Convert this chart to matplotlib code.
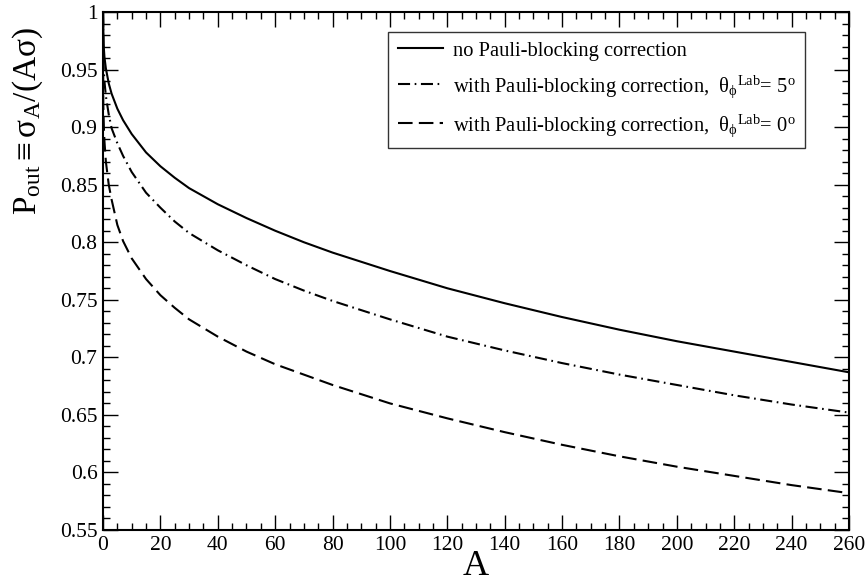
import matplotlib
matplotlib.use("Agg")
import matplotlib.pyplot as plt
from matplotlib.ticker import MultipleLocator, FixedLocator

plt.rcParams['font.family'] = ['Liberation Serif', 'DejaVu Serif']
plt.rcParams['mathtext.fontset'] = 'custom'
plt.rcParams['mathtext.rm'] = 'Liberation Serif'
plt.rcParams['mathtext.it'] = 'Liberation Serif:italic'
plt.rcParams['mathtext.bf'] = 'Liberation Serif:bold'

# ---- data ----
A_vals = [0, 0.2, 0.5, 1, 2, 3, 5, 7, 10, 15, 20, 25, 30, 40, 50, 60, 70, 80,
          90, 100, 120, 140, 160, 180, 200, 220, 240, 260]
no_pauli = [1.0, 0.972, 0.961, 0.951, 0.938, 0.929, 0.916, 0.906, 0.894, 0.878,
            0.866, 0.856, 0.847, 0.833, 0.821, 0.810, 0.800, 0.791, 0.783, 0.775,
            0.760, 0.747, 0.735, 0.724, 0.714, 0.705, 0.696, 0.687]
pauli_5deg = [1.0, 0.953, 0.940, 0.927, 0.911, 0.899, 0.886, 0.875, 0.861, 0.843,
              0.830, 0.818, 0.808, 0.793, 0.780, 0.768, 0.758, 0.749, 0.741, 0.733,
              0.718, 0.706, 0.695, 0.685, 0.676, 0.667, 0.659, 0.652]
A_dash = [0, 0.1, 0.3, 0.5, 1, 2, 3, 5, 7, 10, 15, 20, 25, 30, 40, 50, 60, 70,
          80, 90, 100, 120, 140, 160, 180, 200, 220, 240, 260]
pauli_0deg = [1.0, 0.920, 0.900, 0.888, 0.870, 0.850, 0.837, 0.815, 0.801, 0.786,
              0.768, 0.754, 0.743, 0.733, 0.718, 0.705, 0.694, 0.685, 0.676, 0.668,
              0.660, 0.647, 0.635, 0.624, 0.614, 0.605, 0.597, 0.589, 0.582]

labels = ["no Pauli-blocking correction",
          r"with Pauli-blocking correction,  θ$_{\mathrm{ϕ}}{}^{\mathrm{Lab}}$= 5$^{\mathrm{o}}$",
          r"with Pauli-blocking correction,  θ$_{\mathrm{ϕ}}{}^{\mathrm{Lab}}$= 0$^{\mathrm{o}}$"]

x_ticks = [0, 20, 40, 60, 80, 100, 120, 140, 160, 180, 200, 220, 240, 260]
y_ticks = [0.55, 0.6, 0.65, 0.7, 0.75, 0.8, 0.85, 0.9, 0.95, 1.0]
y_tick_labels = ["0.55", "0.6", "0.65", "0.7", "0.75", "0.8", "0.85", "0.9", "0.95", "1"]

fig = plt.figure(figsize=(8.66, 5.84), dpi=100)
ax = fig.add_axes([103/866, 1-530/584, (849-103)/866, (530-12)/584])

lw = 1.5
ax.plot(A_vals, no_pauli, color='black', lw=lw, label=labels[0])
ax.plot(A_vals, pauli_5deg, color='black', lw=lw, dashes=(5.8, 2.2, 0.8, 2.2),
        label=labels[1])
ax.plot(A_dash, pauli_0deg, color='black', lw=lw, dashes=(7.0, 3.0), label=labels[2])

ax.set_xlim(0, 260)
ax.set_ylim(0.55, 1.0)
ax.xaxis.set_major_locator(FixedLocator(x_ticks))
ax.xaxis.set_minor_locator(MultipleLocator(5))
ax.yaxis.set_major_locator(FixedLocator(y_ticks))
ax.yaxis.set_minor_locator(MultipleLocator(0.01))
ax.set_xticklabels([str(t) for t in x_ticks])
ax.set_yticklabels(y_tick_labels)

ax.tick_params(which='both', direction='in', top=True, right=True, width=1.0,
               labelsize=15.5, color='black')
ax.tick_params(which='major', length=10.5, pad=4)
ax.tick_params(which='minor', length=5)
for s in ax.spines.values():
    s.set_linewidth(1.5)

ax.set_xlabel("A", fontsize=26, labelpad=-3)
fig.text(28/866, 1-27/584, r"P$_{\mathrm{out}}$$\equiv$σ$_{\mathrm{A}}$/(Aσ)",
         rotation=90, ha='center', va='top', fontsize=24)

leg = ax.legend(loc='upper right', fontsize=14.8, frameon=True,
                fancybox=False, edgecolor='black', handlelength=2.2,
                labelspacing=0.6, borderpad=0.45, handletextpad=0.5,
                borderaxespad=0)
leg.get_frame().set_linewidth(1.0)
leg.set_bbox_to_anchor((805/866, 1-32/584), transform=fig.transFigure)

fig.savefig("out.png", dpi=100)
